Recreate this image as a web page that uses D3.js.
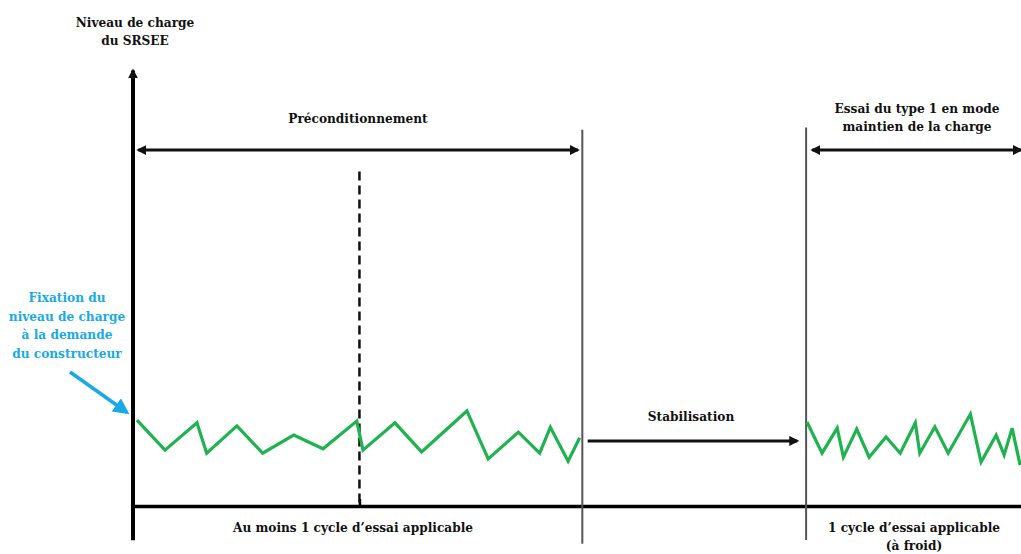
<!DOCTYPE html>
<html>
<head>
<meta charset="utf-8">
<script src="https://cdn.jsdelivr.net/npm/d3@7"></script>
<style>
  body { margin: 0; background: #fff; }
</style>
</head>
<body>
<div id="chart-area"></div>
<script>
// time in % of the test sequence, charge level in %
var preTime  = [0.45, 3.6, 7.2, 8.3, 11.7, 14.6, 18.1, 21.4, 25.2, 25.9, 29.5, 32.5, 37.6, 40.0, 43.4, 45.8, 47.0, 49.0, 50.3];
var preLevel = [19.5, 12.7, 18.9, 12.0, 18.2, 12.0, 16.1, 13.0, 19.3, 12.7, 18.9, 12.3, 21.6, 10.7, 16.8, 12.0, 17.9, 10.2, 15.5];
var testTime  = [75.9, 77.6, 79.3, 80.0, 81.5, 82.9, 84.8, 86.4, 88.1, 88.6, 90.3, 91.8, 94.3, 95.5, 97.2, 98.1, 99.0, 99.9];
var testLevel = [19.1, 12.0, 17.7, 11.1, 17.5, 11.1, 15.7, 12.0, 18.9, 12.0, 18.0, 12.0, 20.9, 10.0, 16.1, 11.6, 17.7, 9.3];

var cycleEnd = 25.5;        // dashed line
var phaseBounds = [50.6, 75.8];  // grey lines
var arrowLevel = 80.9;
var stabLevel = 14.8;

var yLabel = ["Niveau de charge", "du SRSEE"];
var noteLines = ["Fixation du", "niveau de charge", "à la demande", "du constructeur"];
var testLabel = ["Essai du type 1 en mode", "maintien de la charge"];
var bottomLeft = ["Au moins 1 cycle d\u2019essai applicable"];
var bottomRight = ["1 cycle d\u2019essai applicable", "(à froid)"];

var width = 1021, height = 554;
var green = "#1fb34f", blue = "#18aae8";
var font = "'DejaVu Serif Condensed', 'DejaVu Serif', serif";

var svg = d3.select("#chart-area")
    .append("svg")
    .attr("width", width)
    .attr("height", height);

var x = d3.scaleLinear().domain([0, 100]).range([133, 1021]);
var y = d3.scaleLinear().domain([0, 100]).range([506, 66]);

var defs = svg.append("defs");
function marker(id, color, size) {
    defs.append("marker")
        .attr("id", id)
        .attr("viewBox", "0 0 10 10")
        .attr("refX", 8).attr("refY", 5)
        .attr("markerWidth", size).attr("markerHeight", size)
        .attr("markerUnits", "userSpaceOnUse")
        .attr("orient", "auto-start-reverse")
      .append("path")
        .attr("d", "M0,0 L10,5 L0,10 z")
        .attr("fill", color);
}
marker("ah", "#111", 10);
marker("ahb", blue, 16);

// vertical axis (goes a bit below the time axis)
svg.append("line")
    .attr("x1", x(0)).attr("x2", x(0))
    .attr("y1", y(-7.8)).attr("y2", y(99))
    .attr("stroke", "#000").attr("stroke-width", 4)
    .attr("marker-end", "url(#ah)");

// time axis with the small tick at the end of the first cycle
var xAxis = d3.axisBottom(x).tickValues([cycleEnd]).tickSize(-7).tickSizeOuter(0).tickFormat("");
var gx = svg.append("g").attr("transform", "translate(0," + y(0) + ")").call(xAxis);
gx.select(".domain").attr("stroke", "#000").attr("stroke-width", 3.5);
gx.selectAll(".tick line").attr("stroke", "#000").attr("stroke-width", 2.5);

// dashed end of first cycle
svg.append("line")
    .attr("x1", x(cycleEnd)).attr("x2", x(cycleEnd))
    .attr("y1", y(76)).attr("y2", y(0))
    .attr("stroke", "#111").attr("stroke-width", 2.5)
    .attr("stroke-dasharray", "9,5");

// phase boundaries
svg.selectAll(".bound").data(phaseBounds).enter()
    .append("line")
    .attr("class", "bound")
    .attr("x1", (d) => x(d)).attr("x2", (d) => x(d))
    .attr("y1", (d, i) => i == 0 ? y(85.5) : y(86))
    .attr("y2", (d, i) => i == 0 ? y(-8.6) : y(-7.7))
    .attr("stroke", "#555").attr("stroke-width", 2);

// charge level traces
var line = d3.line().x((d) => x(d[0])).y((d) => y(d[1]));
[[preTime, preLevel], [testTime, testLevel]].forEach((s) => {
    svg.append("path")
        .datum(d3.zip(s[0], s[1]))
        .attr("d", line)
        .attr("fill", "none")
        .attr("stroke", green)
        .attr("stroke-width", 3.2)
        .attr("stroke-linejoin", "miter");
});

// phase arrows
function arrow(t0, t1, lv, both) {
    var l = svg.append("line")
        .attr("x1", x(t0)).attr("x2", x(t1))
        .attr("y1", y(lv)).attr("y2", y(lv))
        .attr("stroke", "#111").attr("stroke-width", 3)
        .attr("marker-end", "url(#ah)");
    if (both) l.attr("marker-start", "url(#ah)");
}
arrow(0.6, 50.1, arrowLevel, true);
arrow(76.5, 100, arrowLevel, true);
arrow(51.2, 74.8, stabLevel, false);

// texts
function label(lines, cx, by, lh, color) {
    svg.append("text")
        .attr("text-anchor", "middle")
        .attr("font-family", font)
        .attr("font-weight", "bold")
        .attr("font-size", 13.5)
        .attr("fill", color || "#111")
        .selectAll("tspan").data(lines).enter()
        .append("tspan")
        .attr("x", cx)
        .attr("y", (d, i) => by + i * lh)
        .text((d) => d);
}
label(yLabel, 135, 27, 18);
label(["Préconditionnement"], 358, 123, 18);
label(["Stabilisation"], 691, 421, 18);
label(testLabel, 917, 113, 18);
label(bottomLeft, 353, 532, 18);
label(bottomRight, 914, 532, 18);
label(noteLines, 67, 302, 18.7, blue);

// blue pointer to the starting level
svg.append("line")
    .attr("x1", 70).attr("y1", 372)
    .attr("x2", x(-0.7)).attr("y2", y(21.3))
    .attr("stroke", blue).attr("stroke-width", 3.5)
    .attr("marker-end", "url(#ahb)");
</script>
</body>
</html>
